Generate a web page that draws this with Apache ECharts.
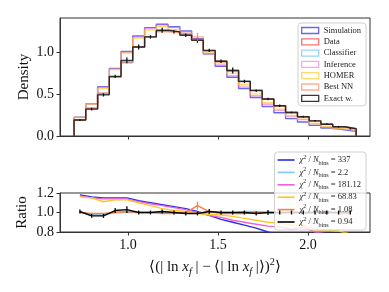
<!DOCTYPE html>
<html><head><meta charset="utf-8">
<script src="https://cdn.jsdelivr.net/npm/echarts@6/dist/echarts.min.js"></script>
<style>html,body{margin:0;padding:0;background:#fff}#c{width:389px;height:292px}</style>
</head><body><div id="c"></div>
<script>
// ---- data ----
const binEdges = [0.700,0.765,0.831,0.896,0.961,1.026,1.092,1.157,1.222,1.288,1.353,1.418,1.484,1.549,1.614,1.679,1.745,1.810,1.875,1.941,2.006,2.071,2.137,2.202,2.267];
const seriesNames = ['Simulation','Data','Classifier','Inference','HOMER','Best NN','Exact w.'];
const simulation = [0.224,0.383,0.587,0.805,1.006,1.19,1.29,1.33,1.30,1.25,1.16,0.98,0.83,0.70,0.566,0.458,0.352,0.277,0.207,0.166,0.126,0.095,0.073,0.056];
const data      = [0.19,0.33,0.51,0.70,0.875,1.06,1.18,1.25,1.24,1.21,1.15,1.01,0.89,0.78,0.65,0.545,0.44,0.36,0.28,0.23,0.18,0.14,0.11,0.087];
const classifier= [0.19,0.323,0.497,0.70,0.875,1.06,1.18,1.25,1.24,1.21,1.15,1.01,0.89,0.78,0.656,0.55,0.44,0.36,0.28,0.228,0.18,0.14,0.11,0.087];
const inference = [0.222,0.380,0.581,0.798,0.998,1.177,1.28,1.32,1.29,1.24,1.15,0.980,0.846,0.718,0.585,0.480,0.378,0.306,0.232,0.196,0.144,0.109,0.084,0.064];
const homer     = [0.220,0.380,0.566,0.791,0.989,1.166,1.263,1.30,1.265,1.222,1.139,0.990,0.868,0.749,0.611,0.501,0.396,0.320,0.244,0.200,0.148,0.115,0.089,0.068];
const bestNN    = [0.19,0.327,0.505,0.70,0.884,1.06,1.18,1.24,1.228,1.21,1.18,1.02,0.881,0.772,0.644,0.545,0.44,0.356,0.283,0.228,0.18,0.143,0.108,0.087];
const exactW    = [0.19,0.32,0.49,0.71,0.90,1.06,1.18,1.26,1.24,1.20,1.14,1.02,0.89,0.78,0.65,0.54,0.44,0.36,0.28,0.23,0.18,0.14,0.11,0.087];
const exactErr  = [0.01,0.015,0.02,0.02,0.035,0.03,0.02,0.03,0.02,0.02,0.03,0.02,0.02,0.035,0.02,0.015,0.015,0.015,0.01,0.01,0.01,0.01,0.01,0.01];
const bestNNErrBin = 10;  // index of the Best NN bin with a visible error bar
const bestNNErr = 0.05;

const ratioSimulation = [1.18,1.16,1.15,1.15,1.15,1.12,1.10,1.08,1.06,1.04,1.01,0.97,0.93,0.90,0.87,0.84,0.80,0.77,0.74,0.72,0.70,0.68,0.66,0.64];
const ratioClassifier = [1.0,0.98,0.975,1.0,1.0,1.0,1.0,1.0,1.0,1.0,1.0,1.0,1.0,1.0,1.01,1.01,1.0,1.0,1.0,0.99,1.0,1.0,1.0,1.0];
const ratioInference  = [1.17,1.15,1.14,1.14,1.14,1.11,1.09,1.07,1.05,1.03,1.0,0.97,0.95,0.92,0.90,0.88,0.86,0.85,0.83,0.85,0.80,0.78,0.76,0.74];
const ratioHomer      = [1.16,1.15,1.11,1.13,1.13,1.10,1.07,1.04,1.02,1.01,0.99,0.98,0.975,0.96,0.94,0.92,0.90,0.89,0.87,0.87,0.82,0.82,0.81,0.78];
const ratioBestNN     = [1.0,0.99,0.99,1.0,1.01,1.0,1.0,0.99,0.99,1.0,1.07,1.01,0.99,0.99,0.99,1.0,1.0,0.99,1.01,0.99,1.0,1.02,0.98,1.0];
const ratioExact      = [1.01,0.965,0.965,1.02,1.03,1.0,1.0,1.01,1.0,0.99,0.99,1.01,1.0,1.0,1.0,0.99,1.0,1.0,1.0,1.0,1.0,1.0,1.0,1.0];
const ratioExactErr   = [0.02,0.02,0.02,0.025,0.035,0.02,0.02,0.02,0.02,0.02,0.02,0.025,0.02,0.02,0.02,0.02,0.025,0.02,0.02,0.02,0.02,0.02,0.02,0.02];
const ratioBestNNErr  = 0.04;
const chi2Values = ['337','2.2','181.12','68.83','1.08','0.94'];

const xTicks = [1.0, 1.5, 2.0];
const yTicksTop = [0.0, 0.5, 1.0];
const yTicksRatio = [0.8, 1.0, 1.2];

// ---- styling ----
const histColors = ['rgba(40,40,230,0.7)','rgba(240,40,40,0.65)','rgba(100,190,240,0.65)','rgba(240,110,220,0.6)','rgba(255,200,30,0.65)','rgba(255,120,70,0.6)','rgba(20,20,20,0.85)'];
const ratioColors = ['#2a2aee','#7cc8f5','#f060d8','#ffc820','#ff7f45','#000000'];
const FONT = 'Liberation Serif';

const centers = binEdges.slice(0,-1).map((e,i)=>(e+binEdges[i+1])/2);
function stepData(vals){
  const pts = [[binEdges[0],0]];
  vals.forEach((v,i)=>{pts.push([binEdges[i],v]);pts.push([binEdges[i+1],v]);});
  pts.push([binEdges[binEdges.length-1],0]);
  return pts;
}
function errSeries(name, xi, yi, pts, color){
  return {type:'custom', name:name, xAxisIndex:xi, yAxisIndex:yi, silent:true, z:5,
    renderItem:(p,api)=>{
      const a=api.coord([api.value(0),api.value(1)]), b=api.coord([api.value(0),api.value(2)]);
      return {type:'line', shape:{x1:a[0],y1:a[1],x2:b[0],y2:b[1]}, style:{stroke:color,lineWidth:1.3}};
    }, data:pts};
}

const hists = [simulation,data,classifier,inference,homer,bestNN,exactW];
const ratios = [ratioSimulation,ratioClassifier,ratioInference,ratioHomer,ratioBestNN,ratioExact];
const ratioNames = chi2Values.map(v=>'chi2 '+v);

const series = [];
hists.forEach((h,i)=>series.push({type:'line', name:seriesNames[i], xAxisIndex:0, yAxisIndex:0,
  data:stepData(h), symbol:'none', lineStyle:{color:histColors[i], width:1.4}, itemStyle:{color:histColors[i]}, z:2+(i===6?1:0)}));
series.push(errSeries('e1',0,0,centers.map((c,i)=>[c,exactW[i]-exactErr[i],exactW[i]+exactErr[i]]),'#111'));
series.push(errSeries('e2',0,0,[[centers[bestNNErrBin],bestNN[bestNNErrBin]-bestNNErr,bestNN[bestNNErrBin]+bestNNErr]],'rgba(255,120,70,0.8)'));
ratios.forEach((r,i)=>series.push({type:'line', name:ratioNames[i], xAxisIndex:1, yAxisIndex:1,
  data:centers.map((c,j)=>[c,r[j]]), symbol:'none', clip:true, lineStyle:{color:ratioColors[i], width:1.4}, itemStyle:{color:ratioColors[i]}, z:2}));
series.push(errSeries('e3',1,1,centers.map((c,i)=>[c,ratioExact[i]-ratioExactErr[i],ratioExact[i]+ratioExactErr[i]]),'#000'));
series.push(errSeries('e4',1,1,[[centers[bestNNErrBin],ratioBestNN[bestNNErrBin]-ratioBestNNErr,ratioBestNN[bestNNErrBin]+ratioBestNNErr]],'#ff7f45'));

const axLine = {show:true, lineStyle:{color:'#333', width:1}};
const tickStyle = {lineStyle:{color:'#333', width:1}, length:3.5};
const lblStyle = {fontFamily:FONT, fontSize:14, color:'#111'};

const xName = '{a|⟨(| ln }{i|x}{s|f}{a| | − ⟨| ln }{i|x}{s|f}{a| |⟩)}{p|2}{a|⟩}';

const chart = echarts.init(document.getElementById('c'), null, {renderer:'canvas'});
chart.setOption({
  animation:false,
  backgroundColor:'#fff',
  grid:[
    {left:60, top:18, width:310, height:118, show:true, borderColor:'#333', borderWidth:1, backgroundColor:'transparent'},
    {left:60, top:193, width:310, height:39, show:true, borderColor:'#333', borderWidth:1, backgroundColor:'transparent'}
  ],
  xAxis:[
    {type:'value', gridIndex:0, min:0.622, max:2.344, axisLine:axLine, splitLine:{show:false},
      axisTick:Object.assign({show:true, customValues:xTicks}, tickStyle), axisLabel:{show:false}},
    {type:'value', gridIndex:1, min:0.622, max:2.344, axisLine:axLine, splitLine:{show:false},
      axisTick:Object.assign({show:true, customValues:xTicks}, tickStyle),
      axisLabel:Object.assign({show:true, customValues:xTicks, margin:6, formatter:v=>v.toFixed(1)}, lblStyle),
      name:xName, nameLocation:'middle', nameGap:25, nameMoveOverlap:false,
      nameTextStyle:{rich:{
        a:{fontFamily:FONT, fontSize:15, color:'#111', lineHeight:20},
        i:{fontFamily:FONT, fontStyle:'italic', fontSize:15, color:'#111', lineHeight:20},
        s:{fontFamily:FONT, fontStyle:'italic', fontSize:10, color:'#111', lineHeight:11, verticalAlign:'bottom'},
        p:{fontFamily:FONT, fontSize:10, color:'#111', lineHeight:11, verticalAlign:'top'}
      }}}
  ],
  yAxis:[
    {type:'value', gridIndex:0, min:0, max:1.405, axisLine:axLine, splitLine:{show:false},
      axisTick:Object.assign({show:true, customValues:yTicksTop}, tickStyle),
      axisLabel:Object.assign({show:true, customValues:yTicksTop, margin:6, formatter:v=>v.toFixed(1)}, lblStyle),
      name:'Density', nameLocation:'middle', nameGap:28, nameRotate:90, nameMoveOverlap:false,
      nameTextStyle:{fontFamily:FONT, fontSize:15, color:'#111'}},
    {type:'value', gridIndex:1, min:0.8, max:1.2, axisLine:axLine, splitLine:{show:false},
      axisTick:Object.assign({show:true, customValues:yTicksRatio}, tickStyle),
      axisLabel:Object.assign({show:true, customValues:yTicksRatio, margin:6, formatter:v=>v.toFixed(1)}, lblStyle),
      name:'Ratio', nameLocation:'middle', nameGap:30, nameRotate:90, nameMoveOverlap:false,
      nameTextStyle:{fontFamily:FONT, fontSize:15, color:'#111'}}
  ],
  legend:[
    {orient:'vertical', right:23, top:23, itemWidth:17, itemHeight:6, itemGap:0.3,
      padding:[2,5,2,3], backgroundColor:'rgba(255,255,255,0.8)', borderColor:'#d0d0d0', borderWidth:1, borderRadius:3,
      textStyle:{fontFamily:FONT, fontSize:8.5, color:'#222', lineHeight:11},
      data:seriesNames.map((n,i)=>({name:n, icon:'rect', itemStyle:{color:'rgba(255,255,255,0)', borderColor:histColors[i], borderWidth:1.3}}))},
    {orient:'vertical', right:23, top:152, itemWidth:17, itemHeight:1.6, itemGap:0.4,
      padding:[2,5,2,3], backgroundColor:'rgba(255,255,255,0.8)', borderColor:'#d0d0d0', borderWidth:1, borderRadius:3,
      data:ratioNames.map((n,i)=>({name:n, icon:'rect', itemStyle:{color:ratioColors[i], borderWidth:0}})),
      formatter:n=>{const v=n.split(' ')[1]; return '{c|χ}{p|2}{t| / }{c|N}{b|bins}{t| = '+v+'}';},
      textStyle:{fontFamily:FONT, fontSize:8.5, color:'#222', rich:{
        c:{fontFamily:FONT, fontStyle:'italic', fontSize:8.5, color:'#222', lineHeight:12},
        t:{fontFamily:FONT, fontSize:8.5, color:'#222', lineHeight:12},
        p:{fontFamily:FONT, fontSize:6, color:'#222', lineHeight:7, verticalAlign:'top'},
        b:{fontFamily:FONT, fontSize:6, color:'#222', lineHeight:7, verticalAlign:'bottom'}
      }}}
  ],
  series:series
});
</script></body></html>
